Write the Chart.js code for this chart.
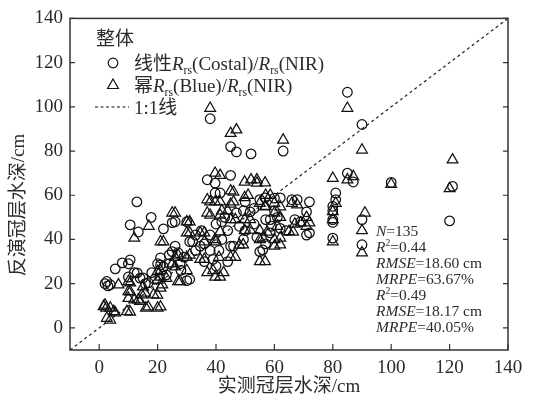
<!DOCTYPE html>
<html>
<head>
<meta charset="utf-8">
<script src="https://cdn.jsdelivr.net/npm/chart.js@4.4.1/dist/chart.umd.min.js"></script>
<style>
  html, body { margin: 0; padding: 0; background: #fff; }
  #wrap { width: 533px; height: 402px; }
</style>
</head>
<body>
<div id="wrap"><canvas id="chart"></canvas></div>
<script>
const xTicks = [0, 20, 40, 60, 80, 100, 120, 140];
const yTicks = [0, 20, 40, 60, 80, 100, 120, 140];
const axisRange = [-10, 140];

// 线性 Rrs(Costal)/Rrs(NIR): [measured, retrieved]
const linearPts = [
  [2,20],[3,19],[2.6,21],[3.8,19.5],[5.5,26.7],[7.9,29.4],[10.6,30.8],[10,29],[10,23],[12.9,57],
  [10.6,46.6],[13.4,43.4],[12,25],[13,24.9],[14,22.5],[15,22.6],[16.8,20.4],[15.8,20],[17.8,50],[22,44.8],
  [21,31.7],[21,28.5],[20,29],[22,27.6],[26,48],[25,47.6],[25,34.5],[26,37],[27,34],[27.7,29],
  [30,21.4],[31,22],[30,48],[31,39],[32,39],[34.6,37],[36,38],[37,67],[38,94.6],[39.7,65.5],
  [39.7,61],[41.4,61],[38,35],[39,31],[41,35],[46,37],[45,69],[45,82],[47,79.6],[52,78.7],
  [45,37],[44,44],[49.4,53],[51.7,52.5],[49.4,40],[55,58],[56.8,58.8],[55,34.5],[56,35.3],[57,49],
  [58.6,49],[58.6,43],[60,58.7],[62,58.8],[61,50],[63,80],[66,58],[67.8,58],[67,49],[69,48],
  [71,52.5],[72,57],[71,42],[72,43],[80,55],[80,53],[80,40.6],[80,47.7],[80,49],[81,61],
  [81,58],[85,70],[85,106.6],[87,66],[90,92],[90,49],[90,37.6],[100,65.8],[120,48.4],[121,64],
  [24,33],[28,26],[33,42],[35,44],[36,30],[40,47],[42,48],[43,50],[44,30],[48,46],
  [50,44],[53,47],[54,41],[59,46],[60,53],[64,44],[23,24],[18,25],[29,32],[38,42],
  [42,40],[47,52],[50,57],[53,54],[57,38],[62,45],[19,22],[24,29],[33,35],[40,28]
];

// 幂 Rrs(Blue)/Rrs(NIR): [measured, retrieved]
const powerPts = [
  [1.5,9.7],[2.4,9],[2,10.4],[3.8,9],[2.6,4.4],[3.8,3.6],[5,7.4],[5.5,6.8],[6.6,19.5],[9.5,7.4],
  [10.6,7.2],[10,21],[10.6,20.4],[10,16.4],[10.6,16.3],[10,13.4],[12,40.6],[12,12.7],[13.4,12.7],[14,12],
  [14.6,15],[15.7,15.8],[15,18.6],[16,9],[16.8,9.5],[17,46],[18.6,15],[19.9,14.9],[20,9],[21,9.5],
  [20,21.7],[21.6,19.5],[21,18],[20,25.5],[21,26],[21,23],[21,39],[22,39],[23,22.5],[25,52],
  [26,52],[25,29],[26,27.6],[26,32],[27,33],[27,21],[27.7,21],[30,48],[31,48],[30,43],
  [31,43],[30,32],[31,33],[30,26],[34.6,43],[36,43],[34.6,31],[36,31],[36,39],[37,58],
  [38,57],[37,52],[38,51],[37,25],[39,26],[38,99.4],[39.7,70],[41.4,69],[39.7,23],[41.4,23],
  [39.7,57],[41.4,57],[41.4,51],[39.7,40],[40,39],[41,32],[42.6,25],[42,53],[44,53],[41.4,43.5],
  [45,88],[47,89.6],[45,62],[46,61.5],[45,56],[46,57],[45,49],[46.6,49],[45,32],[46.6,32],
  [48,37.5],[49.3,37.6],[49.8,66],[49.8,59],[51,60],[49.8,49],[51.7,49],[49.8,44],[51.7,44.3],[52,67],
  [54,67],[54,65.5],[56.8,65.6],[55,56.4],[56.8,54.8],[55,44],[57.5,43.4],[55,40],[56,40.7],[55,30],
  [56.8,30],[57,60],[58.6,60],[57,55],[60,56.4],[62,54.8],[60,52],[62,50],[60,40],[62,40.7],
  [60,37],[62,37.6],[61,46],[63,85],[65,43.6],[66.4,43.4],[66,56.4],[67.8,55.7],[67,47],[69,47.5],
  [71,50],[72,47.5],[71,46],[80,67.7],[80,52.6],[80,49],[80,39],[81,56.4],[85,67],[85,99.4],
  [87,68.5],[90,80.5],[90,44],[90,34],[91,52],[100,65],[120,63],[121,76]
];

const legendTitle = '整体';
const yTitle = '反演冠层水深/cm';
const statLines = [
  [{ t: 'N', i: true }, { t: '=135' }],
  [{ t: 'R', i: true }, { t: '2', sup: true }, { t: '=0.44' }],
  [{ t: 'RMSE', i: true }, { t: '=18.60 cm' }],
  [{ t: 'MRPE', i: true }, { t: '=63.67%' }],
  [{ t: 'R', i: true }, { t: '2', sup: true }, { t: '=0.49' }],
  [{ t: 'RMSE', i: true }, { t: '=18.17 cm' }],
  [{ t: 'MRPE', i: true }, { t: '=40.05%' }]
];

const FONT = '"Liberation Serif", "Noto Sans CJK SC", serif';
const INK = '#2b2b2b';

function drawRich(ctx, x, y, segs, size) {
  for (const s of segs) {
    const small = s.sub || s.sup;
    const fs = small ? size * 0.62 : size;
    ctx.font = (s.i ? 'italic ' : '') + fs + 'px ' + FONT;
    const dy = s.sub ? size * 0.22 : s.sup ? -size * 0.38 : 0;
    ctx.fillText(s.t, x, y + dy);
    x += ctx.measureText(s.t).width;
  }
}

const decorations = {
  id: 'decorations',
  afterDraw(chart) {
    const { ctx, chartArea: a, scales } = chart;
    ctx.save();
    // frame
    ctx.strokeStyle = '#333';
    ctx.lineWidth = 1.5;
    ctx.strokeRect(a.left, a.top, a.right - a.left, a.bottom - a.top);
    // inward ticks
    ctx.lineWidth = 1.2;
    ctx.beginPath();
    xTicks.forEach(v => {
      const px = scales.x.getPixelForValue(v);
      ctx.moveTo(px, a.bottom); ctx.lineTo(px, a.bottom - 6);
    });
    yTicks.forEach(v => {
      const py = scales.y.getPixelForValue(v);
      ctx.moveTo(a.left, py); ctx.lineTo(a.left + 5, py);
      ctx.moveTo(a.right, py); ctx.lineTo(a.right - 5, py);
    });
    ctx.stroke();

    // y axis title, placed a bit below the centre as in the original
    ctx.fillStyle = INK;
    ctx.save();
    ctx.translate(19, 205);
    ctx.rotate(-Math.PI / 2);
    ctx.textAlign = 'center';
    ctx.textBaseline = 'middle';
    ctx.font = '19px ' + FONT;
    ctx.fillText(yTitle, 0, 0);
    ctx.restore();

    // legend
    ctx.textBaseline = 'alphabetic';
    ctx.textAlign = 'left';
    ctx.font = '19px ' + FONT;
    ctx.fillText(legendTitle, 96, 45);

    ctx.strokeStyle = '#111';
    ctx.lineWidth = 1.2;
    ctx.beginPath();
    ctx.arc(113, 63, 4.8, 0, Math.PI * 2);
    ctx.stroke();
    drawRich(ctx, 134, 70, [{ t: '线性' }, { t: 'R', i: true }, { t: 'rs', sub: true }, { t: '(Costal)/' },
      { t: 'R', i: true }, { t: 'rs', sub: true }, { t: '(NIR)' }], 19);

    ctx.beginPath();
    ctx.moveTo(113, 79); ctx.lineTo(118.4, 88.5); ctx.lineTo(107.6, 88.5); ctx.closePath();
    ctx.stroke();
    drawRich(ctx, 134, 92, [{ t: '幂' }, { t: 'R', i: true }, { t: 'rs', sub: true }, { t: '(Blue)/' },
      { t: 'R', i: true }, { t: 'rs', sub: true }, { t: '(NIR)' }], 19);

    ctx.setLineDash([3, 2.5]);
    ctx.beginPath();
    ctx.moveTo(95, 107); ctx.lineTo(129, 107);
    ctx.stroke();
    ctx.setLineDash([]);
    drawRich(ctx, 134, 114, [{ t: '1:1线' }], 19);

    // statistics
    statLines.forEach((line, k) => drawRich(ctx, 376, 236 + k * 16, line, 15.5));
    ctx.restore();
  }
};

const toXY = pts => pts.map(p => ({ x: p[0], y: p[1] }));

new Chart(document.getElementById('chart'), {
  type: 'scatter',
  data: {
    datasets: [
      {
        label: '线性',
        data: toXY(linearPts),
        pointStyle: 'circle',
        pointRadius: 4.8,
        borderColor: '#111',
        borderWidth: 1.25,
        backgroundColor: 'rgba(0,0,0,0)'
      },
      {
        label: '幂',
        data: toXY(powerPts),
        pointStyle: 'triangle',
        pointRadius: 6.2,
        borderColor: '#111',
        borderWidth: 1.25,
        backgroundColor: 'rgba(0,0,0,0)'
      },
      {
        type: 'line',
        label: '1:1线',
        data: axisRange.map(v => ({ x: v, y: v })),
        borderColor: '#222',
        borderWidth: 1.2,
        borderDash: [3, 3],
        pointRadius: 0,
        fill: false
      }
    ]
  },
  options: {
    responsive: true,
    maintainAspectRatio: false,
    animation: false,
    layout: { padding: { top: 18, right: 25, left: 0, bottom: 0 } },
    plugins: { legend: { display: false }, tooltip: { enabled: false } },
    scales: {
      x: {
        type: 'linear',
        min: axisRange[0],
        max: axisRange[1],
        afterBuildTicks: s => { s.ticks = xTicks.map(v => ({ value: v })); },
        afterFit: s => { s.height = 52; },
        grid: { display: false, drawTicks: false },
        border: { display: false },
        ticks: { color: INK, padding: 7, maxRotation: 0, font: { family: FONT, size: 19 } },
        title: { display: true, text: '实测冠层水深/cm', color: INK, padding: { top: 3 }, font: { family: FONT, size: 19 } }
      },
      y: {
        type: 'linear',
        min: axisRange[0],
        max: axisRange[1],
        afterBuildTicks: s => { s.ticks = yTicks.map(v => ({ value: v })); },
        afterFit: s => { s.width = 70; },
        grid: { display: false, drawTicks: false },
        border: { display: false },
        ticks: { color: INK, padding: 7, font: { family: FONT, size: 19 } },
        title: { display: false }
      }
    }
  },
  plugins: [decorations]
});
</script>
</body>
</html>
